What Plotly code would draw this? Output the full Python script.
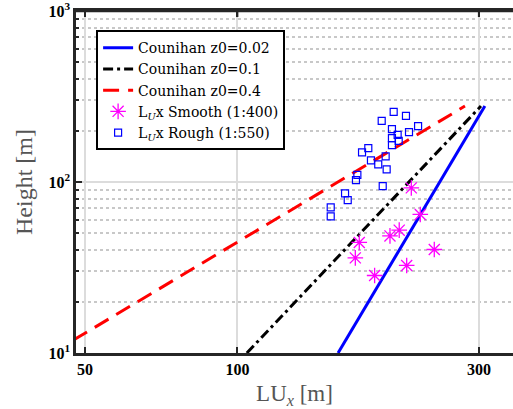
import plotly.graph_objects as go

# Counihan lines (height z [m] vs LUx [m])
z_line = [10, 278]
lux_z002 = [158.1, 308.3]
lux_z01 = [104.4, 302.8]
lux_z04 = [43.0, 281.6]

# Smooth (1:400) measurements
smooth_lux = [220.6, 229.8, 208.8, 200.2, 174.1, 244.9, 171.0, 216.0, 186.7]
smooth_z = [92.4, 64.6, 52.3, 48.4, 44.3, 40.3, 36.0, 32.5, 28.4]

# Rough (1:550) measurements
rough_lux = [203.6, 215.3, 192.8, 202.0, 227.5, 218.3, 207.3, 202.0, 208.3, 202.0,
             181.4, 176.3, 196.3, 183.6, 189.8, 197.2, 172.6, 171.5, 193.7, 163.2,
             165.2, 152.9, 152.9]
rough_z = [257.4, 243.9, 228.0, 203.9, 212.3, 195.8, 188.8, 180.6, 174.1, 164.3,
           157.8, 148.9, 141.1, 133.7, 126.7, 118.4, 110.1, 102.5, 94.6, 85.7,
           78.3, 71.0, 62.9]

x_ticks = [50, 100, 300]
y_ticks = [10, 100, 1000]
y_tick_text = ["10<sup>1</sup>", "10<sup>2</sup>", "10<sup>3</sup>"]
y_minor = [20, 30, 40, 50, 60, 70, 80, 90, 200, 300, 400, 500, 600, 700, 800, 900]

fig = go.Figure()
fig.add_trace(go.Scatter(x=lux_z002, y=z_line, mode="lines", name="Counihan z0=0.02",
                         line=dict(color="#0000ff", width=3)))
fig.add_trace(go.Scatter(x=lux_z01, y=z_line, mode="lines", name="Counihan z0=0.1",
                         line=dict(color="#000000", width=3, dash="10px,4px,3px,4px")))
fig.add_trace(go.Scatter(x=lux_z04, y=z_line, mode="lines", name="Counihan z0=0.4",
                         line=dict(color="#ff0000", width=3, dash="16px,9px")))
fig.add_trace(go.Scatter(x=smooth_lux, y=smooth_z, mode="markers",
                         name="L<sub><i>U</i></sub>x Smooth (1:400)",
                         marker=dict(symbol="asterisk-open", size=13, color="#ff00ff",
                                     line=dict(color="#ff00ff", width=1.3))))
fig.add_trace(go.Scatter(x=rough_lux, y=rough_z, mode="markers",
                         name="L<sub><i>U</i></sub>x Rough (1:550)",
                         marker=dict(symbol="square-open", size=7, color="#0000ff",
                                     line=dict(color="#0000ff", width=1.2))))

serif = "Liberation Serif"
plot_h = 409 - 11 - 56
top_ticks = [dict(type="line", xref="x", yref="paper", x0=v, x1=v, y0=1, y1=1 - 6 / plot_h,
                  line=dict(color="#262626", width=2), layer="above") for v in x_ticks]

fig.update_layout(
    width=513, height=409,
    margin=dict(l=76, r=0, t=11, b=56),
    paper_bgcolor="white", plot_bgcolor="white",
    font=dict(family=serif, color="black"),
    showlegend=True,
    legend=dict(x=0.046, y=0.944, xanchor="left", yanchor="top",
                bgcolor="white", bordercolor="black", borderwidth=2,
                font=dict(family="DejaVu Serif", size=14, color="black"),
                tracegroupgap=0, itemwidth=30),
    xaxis=dict(type="log", range=[1.6812, 2.5445],
               tickvals=x_ticks, ticktext=["<b>%d</b>" % v for v in x_ticks],
               tickfont=dict(family=serif, size=16, color="black"),
               ticks="inside", ticklen=6, tickwidth=2, tickcolor="#262626",
               showline=True, linecolor="#262626", linewidth=2.5, mirror="allticks",
               showgrid=True, gridcolor="#dcdcdc", gridwidth=2,
               zeroline=False, ticklabeloverflow="allow",
               title=dict(text="LU<sub><i>x</i></sub> [m]",
                          font=dict(family=serif, size=23, color="#555555"),
                          standoff=14)),
    yaxis=dict(type="log", range=[1, 3],
               tickvals=y_ticks, ticktext=["<b>%s</b>" % t for t in y_tick_text],
               tickfont=dict(family=serif, size=16, color="black"),
               ticks="inside", ticklen=6, tickwidth=2, tickcolor="#262626",
               showline=True, linecolor="#262626", linewidth=2.5, mirror=False,
               showgrid=True, gridcolor="#dcdcdc", gridwidth=2,
               zeroline=False, ticklabeloverflow="allow",
               minor=dict(tickvals=y_minor, ticks="inside", ticklen=3,
                          tickcolor="#262626", tickwidth=1.5,
                          showgrid=True, gridcolor="#c8c8c8", griddash="dot", gridwidth=1.5),
               title=dict(text="Height [m]",
                          font=dict(family=serif, size=24, color="#555555"),
                          standoff=10)),
    shapes=[dict(type="line", xref="paper", yref="paper", x0=0, x1=1, y0=1, y1=1,
                 line=dict(color="#262626", width=2.5), layer="above")] + top_ticks,
)

fig.write_html("out.html")
